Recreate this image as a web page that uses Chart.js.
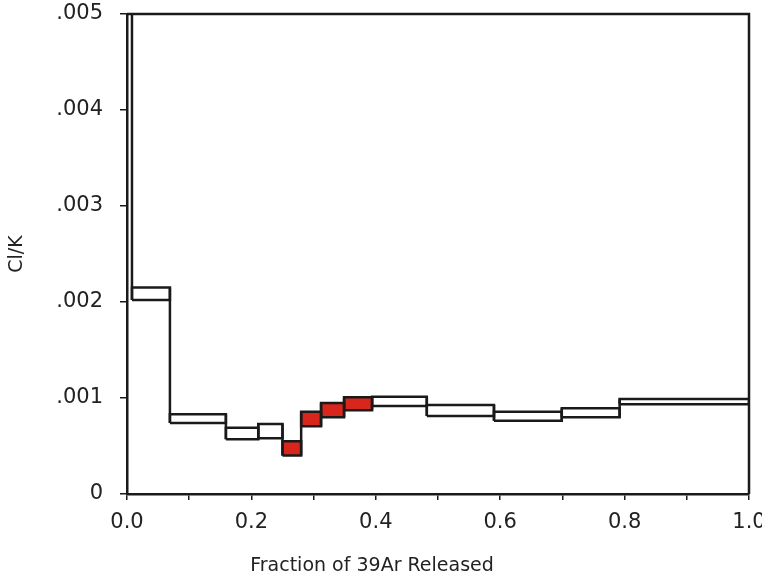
<!DOCTYPE html>
<html>
<head>
<meta charset="utf-8">
<script src="https://cdn.jsdelivr.net/npm/chart.js@4"></script>
<style>
  html, body { margin: 0; padding: 0; background: #fff; }
  .chart_container { width: 762px; height: 579px; }
</style>
</head>
<body>
<div class="chart_container">
  <canvas id="myChart" width="762" height="579"></canvas>
</div>
<script>
// step edges (cumulative fraction of 39Ar released)
var stepEdges = [0, 0.008, 0.069, 0.159, 0.211, 0.250, 0.280, 0.312, 0.349, 0.394, 0.482, 0.590, 0.699, 0.792, 1.0];
// Cl/K lower and upper bound of each step
var clkLow  = [0.0056, 0.00202, 0.00074, 0.00057, 0.00058, 0.00040, 0.000705, 0.00080, 0.000872, 0.000917, 0.000813, 0.000764, 0.00080, 0.000934];
var clkHigh = [0.0062, 0.00215, 0.00083, 0.00069, 0.00073, 0.00055, 0.000857, 0.000948, 0.001007, 0.001014, 0.000927, 0.000857, 0.000892, 0.00099];
// steps used in the plateau (filled red)
var plateauSteps = [false, false, false, false, false, true, true, true, true, false, false, false, false, false];
var yTickValues = [0, 0.001, 0.002, 0.003, 0.004, 0.005];
var xTickLabels = ['0.0', '0.2', '0.4', '0.6', '0.8', '1.0'];

var datasets = [];
// vertical risers joining neighbouring steps
for (var j = 0; j + 1 < clkLow.length; j++) {
  var e = stepEdges[j + 1];
  datasets.push({
    data: [
      {x: e, y: Math.min(clkLow[j], clkLow[j + 1])},
      {x: e, y: Math.max(clkHigh[j], clkHigh[j + 1])}
    ],
    borderColor: '#1a1a1a', borderWidth: 2.5, pointRadius: 0, fill: false
  });
}
// one box per step
for (var i = 0; i < clkLow.length; i++) {
  var x0 = stepEdges[i], x1 = stepEdges[i + 1];
  datasets.push({
    data: [
      {x: x0, y: clkLow[i]}, {x: x1, y: clkLow[i]},
      {x: x1, y: clkHigh[i]}, {x: x0, y: clkHigh[i]},
      {x: x0, y: clkLow[i]}
    ],
    borderColor: '#1a1a1a',
    borderWidth: 2.5,
    backgroundColor: plateauSteps[i] ? '#d8261d' : 'rgba(0,0,0,0)',
    fill: plateauSteps[i] ? 'shape' : false,
    pointRadius: 0,
    tension: 0
  });
}

// top + right frame, and the x-axis caption
var framePlugin = {
  id: 'frame',
  afterDraw: function (chart) {
    var a = chart.chartArea, ctx = chart.ctx;
    ctx.save();
    ctx.strokeStyle = '#1a1a1a';
    ctx.lineWidth = 2.5;
    ctx.beginPath();
    ctx.moveTo(a.left, a.top);
    ctx.lineTo(a.right, a.top);
    ctx.lineTo(a.right, a.bottom);
    ctx.stroke();
    ctx.fillStyle = '#222';
    ctx.font = '19px "DejaVu Sans"';
    ctx.textAlign = 'center';
    ctx.textBaseline = 'middle';
    ctx.fillText('Fraction of 39Ar Released', 372, 566);
    ctx.restore();
  }
};

var ctx = document.getElementById('myChart').getContext('2d');
var myChart = new Chart(ctx, {
  type: 'line',
  data: { datasets: datasets },
  plugins: [framePlugin],
  options: {
    responsive: false,
    animation: false,
    layout: { padding: { top: 14, right: 13, left: 0, bottom: 0 } },
    plugins: { legend: { display: false }, tooltip: { enabled: false } },
    scales: {
      x: {
        type: 'linear',
        min: 0, max: 1,
        afterFit: function (s) { s.height = 85; s.paddingLeft = 0; s.paddingRight = 0; },
        border: { display: true, color: '#1a1a1a', width: 2.5 },
        grid: { drawOnChartArea: false, drawTicks: true, tickLength: 6, color: '#1a1a1a', lineWidth: 1.5 },
        ticks: {
          stepSize: 0.1, autoSkip: false, maxRotation: 0, padding: 10,
          color: '#222', font: { family: 'DejaVu Sans', size: 21 },
          callback: function (v) {
            var k = Math.round(v * 10);
            return k % 2 === 0 ? xTickLabels[k / 2] : '';
          }
        }
      },
      y: {
        type: 'linear',
        min: 0, max: 0.005,
        afterFit: function (s) { s.width = 127; s.paddingTop = 0; s.paddingBottom = 0; },
        afterBuildTicks: function (s) { s.ticks = yTickValues.map(function (v) { return {value: v}; }); },
        border: { display: true, color: '#1a1a1a', width: 2.5 },
        grid: { drawOnChartArea: false, drawTicks: true, tickLength: 7, color: '#1a1a1a', lineWidth: 1.5 },
        title: { display: true, text: 'Cl/K', color: '#222', font: { family: 'DejaVu Sans', size: 19 }, padding: { top: 6, bottom: 0 } },
        ticks: {
          padding: 17, color: '#222', font: { family: 'DejaVu Sans', size: 21 },
          callback: function (v) {
            var k = Math.round(v * 1000);
            return k === 0 ? '0' : '.00' + k;
          }
        }
      }
    }
  }
});
</script>
</body>
</html>
